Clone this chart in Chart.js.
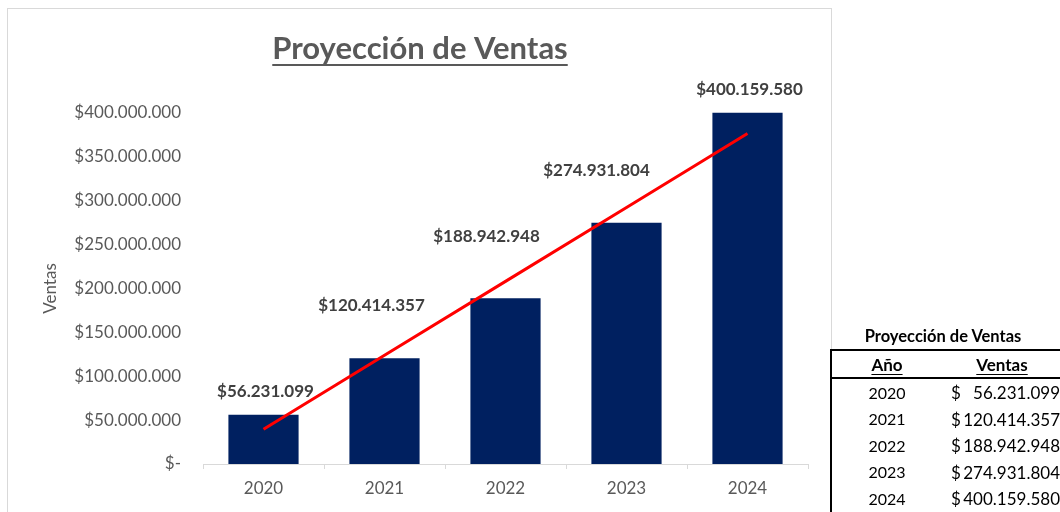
<!DOCTYPE html>
<html>
<head>
<meta charset="utf-8">
<script src="https://cdn.jsdelivr.net/npm/chart.js@4.4.1/dist/chart.umd.min.js"></script>
<style>
  html, body { margin: 0; padding: 0; background: #fff; width: 1060px; height: 512px; overflow: hidden; }
  #frame { position: absolute; left: 7px; top: 8px; width: 825px; height: 520px; border: 1px solid #d9d9d9; box-sizing: border-box; }
  #wrap { position: absolute; left: 0; top: 0; width: 832px; height: 512px; }
  #tbl { position: absolute; left: 830px; top: 324px; width: 232px; font-family: Lato, "Open Sans", sans-serif; color: #000; font-size: 16px; }
  #tbl .ttl { height: 25px; line-height: 25px; text-align: center; font-weight: bold; font-size: 16.5px; padding-right: 6px; }
  #tbl table { border-collapse: collapse; width: 232px; border-left: 2px solid #000; }
  #tbl th { font-weight: bold; height: 26px; padding: 0; text-align: center; font-size: 17px; }
  #tbl th span { text-decoration: underline; text-underline-offset: 3px; }
  #tbl thead tr { border-top: 2px solid #000; border-bottom: 2px solid #000; }
  #tbl td { height: 26.5px; padding: 0; }
  #tbl td.y { text-align: center; width: 110px; }
  #tbl td.v { position: relative; font-size: 17px; }
  #tbl td.v .d { position: absolute; left: 9px; top: 3px; }
  #tbl td.v .n { position: absolute; right: 2px; top: 3px; }
</style>
</head>
<body>
<div id="frame"></div>
<div id="wrap"><canvas id="c" width="832" height="512"></canvas></div>
<div id="tbl"></div>
<script>
// ---- data ----
const years = ['2020', '2021', '2022', '2023', '2024'];
const ventas = [56231099, 120414357, 188942948, 274931804, 400159580];
const tendencia = [39700000, 123900000, 208100000, 292400000, 376600000];
const yTicks = [0, 50000000, 100000000, 150000000, 200000000, 250000000, 300000000, 350000000, 400000000];
const chartTitle = 'Proyección de Ventas';
const yTitle = 'Ventas';
const tableHeaders = ['Año', 'Ventas'];

function fmt(v) { return Math.round(v).toString().replace(/\B(?=(\d{3})+(?!\d))/g, '.'); }
function money(v) { return v === 0 ? '$-' : '$' + fmt(v); }

// ---- table ----
(function () {
  let h = '<div class="ttl">' + chartTitle + '</div><table><thead><tr><th><span>' + tableHeaders[0] + '</span></th><th><span>' + tableHeaders[1] + '</span></th></tr></thead><tbody>';
  years.forEach((y, i) => {
    h += '<tr><td class="y">' + y + '</td><td class="v"><span class="d">$</span><span class="n">' + fmt(ventas[i]) + '</span></td></tr>';
  });
  h += '</tbody></table>';
  document.getElementById('tbl').innerHTML = h;
})();

// label placement offsets relative to bar top / center (px)
const labelOffsets = [[2, -23], [-13, -53], [-19, -62], [-30, -52], [2, -23]];

const titlePlugin = {
  id: 'ulTitle',
  afterDraw(chart) {
    const ctx = chart.ctx;
    ctx.save();
    ctx.font = 'bold 31px Lato, "Open Sans", sans-serif';
    ctx.fillStyle = '#595959';
    ctx.textAlign = 'center';
    ctx.textBaseline = 'middle';
    const x = 420, y = 49;
    ctx.fillText(chartTitle, x, y);
    const w = ctx.measureText(chartTitle).width;
    ctx.fillRect(x - w / 2, y + 15, w, 2);
    ctx.restore();
  }
};

const labelPlugin = {
  id: 'barLabels',
  afterDatasetsDraw(chart) {
    const ctx = chart.ctx;
    const meta = chart.getDatasetMeta(1);
    ctx.save();
    ctx.font = 'bold 17px Lato, "Open Sans", sans-serif';
    ctx.fillStyle = '#404040';
    ctx.textAlign = 'center';
    ctx.textBaseline = 'middle';
    meta.data.forEach((bar, i) => {
      const o = labelOffsets[i];
      ctx.fillText(money(ventas[i]), bar.x + o[0], bar.y + o[1]);
    });
    ctx.restore();
  }
};

new Chart(document.getElementById('c'), {
  data: {
    labels: years,
    datasets: [
      {
        type: 'line',
        label: 'Tendencia',
        data: tendencia,
        borderColor: '#ff0000',
        borderWidth: 3,
        pointRadius: 0,
        fill: false,
        order: 0
      },
      {
        type: 'bar',
        label: 'Ventas',
        data: ventas,
        backgroundColor: '#002060',
        borderWidth: 0,
        barPercentage: 0.58,
        categoryPercentage: 1,
        clip: false,
        order: 1
      }
    ]
  },
  options: {
    responsive: false,
    animation: false,
    events: [],
    layout: { padding: { left: 0, top: 113, right: 24, bottom: 0 } },
    plugins: { legend: { display: false }, tooltip: { enabled: false }, title: { display: false } },
    scales: {
      x: {
        grid: { display: true, drawOnChartArea: false, drawTicks: true, tickLength: 5, color: '#d9d9d9', offset: true },
        border: { display: true, color: '#d9d9d9', width: 1 },
        ticks: { color: '#595959', font: { family: 'Lato, "Open Sans", sans-serif', size: 17 }, padding: 9 },
        afterFit(s) { s.height = 48; }
      },
      y: {
        min: 0,
        max: 400000000,
        afterBuildTicks(s) { s.ticks = yTicks.map(v => ({ value: v })); },
        grid: { display: false, drawTicks: false },
        border: { display: false },
        ticks: {
          color: '#595959',
          font: { family: 'Lato, "Open Sans", sans-serif', size: 17 },
          padding: 22,
          callback: (v) => money(v)
        },
        title: {
          display: true,
          text: yTitle,
          color: '#595959',
          font: { family: 'Lato, "Open Sans", sans-serif', size: 17 },
          padding: { top: 40, bottom: 0 }
        },
        afterFit(s) { s.width = 203; }
      }
    }
  },
  plugins: [titlePlugin, labelPlugin]
});
</script>
</body>
</html>
